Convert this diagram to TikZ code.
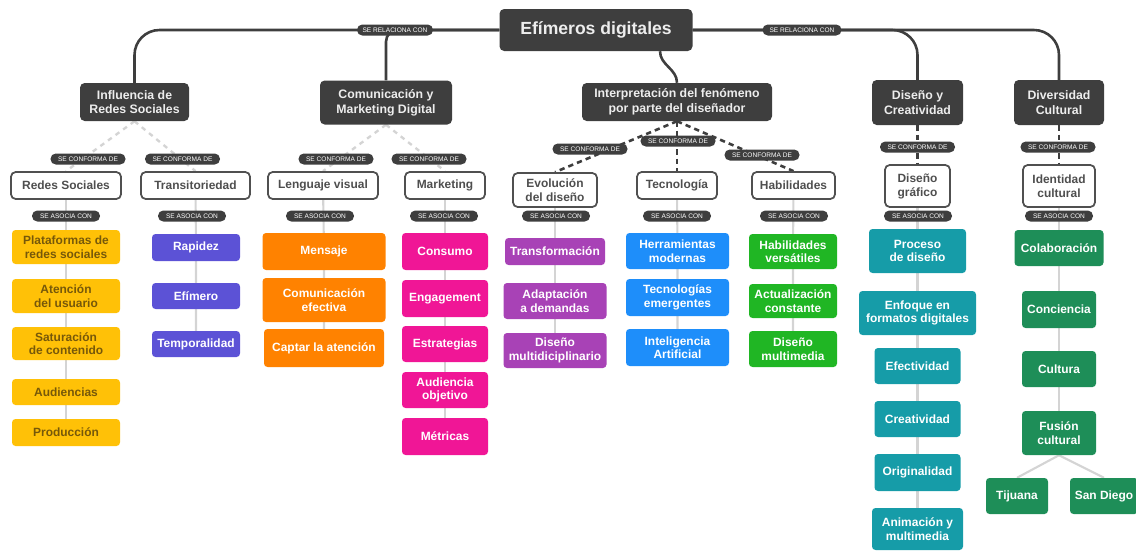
\documentclass[tikz,border=0pt]{standalone}
\usepackage{fontspec}
\setmainfont{Liberation Sans}
\usetikzlibrary{backgrounds}
\definecolor{topicgray}{RGB}{62,62,62}
\definecolor{subgray}{RGB}{80,80,80}
\definecolor{subtext}{RGB}{78,78,78}
\definecolor{stemgray}{RGB}{212,212,212}
\definecolor{yelbox}{RGB}{255,193,7}
\definecolor{yeltext}{RGB}{118,88,10}
\definecolor{indigobox}{RGB}{92,82,214}
\definecolor{orangebox}{RGB}{255,130,0}
\definecolor{magentabox}{RGB}{240,22,150}
\definecolor{purplebox}{RGB}{168,66,182}
\definecolor{bluebox}{RGB}{30,142,250}
\definecolor{greenbox}{RGB}{32,182,36}
\definecolor{tealbox}{RGB}{22,156,168}
\definecolor{pinebox}{RGB}{30,142,88}

\begin{document}
\begin{tikzpicture}[
    x=0.03cm, y=-0.03cm,
    sz/.style 2 args={minimum width=#1*0.03cm, minimum height=#2*0.03cm},
    topic/.style={fill=topicgray, text=white!93!black, rounded corners=4pt, align=center, inner sep=0pt, font=\bfseries\fontsize{10.5}{12.5}\selectfont},
    sub/.style={draw=subgray, line width=1.5pt, fill=white, text=subtext, rounded corners=4pt, align=center, inner sep=0pt, font=\bfseries\fontsize{10.2}{12}\selectfont},
    leaf/.style={fill=#1, text=white, rounded corners=3pt, align=center, inner sep=0pt, font=\bfseries\fontsize{10.2}{11.5}\selectfont},
    tag/.style={fill=topicgray, text=white, rounded corners=4.5pt, inner sep=0pt, minimum height=11*0.03cm, font=\fontsize{5.6}{6}\selectfont},
    link/.style={draw=topicgray, line width=2.2pt},
    lightdash/.style={draw=stemgray, line width=2pt, dash pattern=on 4pt off 4pt},
    darkdash/.style={draw=topicgray, line width=2.2pt, dash pattern=on 4.5pt off 3.5pt},
    stem/.style={draw=stemgray, line width=1.8pt}
  ]
  \useasboundingbox (0,0) rectangle (1136,550);

  % main topics
  \node[topic, sz={193}{42}, font=\bfseries\fontsize{15}{17}\selectfont] (root) at (596,30) {Efímeros digitales};
  \node[topic, sz={109}{38}] (infl) at (134.5,102) {Influencia de\\Redes Sociales};
  \node[topic, sz={132}{44}] (comu) at (386,102.5) {Comunicación y\\Marketing Digital};
  \node[topic, sz={190}{38}] (interp) at (677,102) {Interpretación del fenómeno\\por parte del diseñador};
  \node[topic, sz={91}{45}] (dise) at (917.5,102.5) {Diseño y\\Creatividad};
  \node[topic, sz={90}{45}] (diver) at (1059,102.5) {Diversidad\\Cultural};
  \coordinate (rootout) at ([xshift=1.92cm]root.south);

  % sub topics
  \node[sub, sz={110}{27}] (redes) at (66,185.5) {Redes Sociales};
  \node[sub, sz={109}{27}] (trans) at (195.5,185.5) {Transitoriedad};
  \node[sub, sz={110}{27}] (lengv) at (323,185.5) {Lenguaje visual};
  \node[sub, sz={80}{27}] (mark) at (445,185.5) {Marketing};
  \node[sub, sz={84}{34}] (evol) at (555,190) {Evolución\\del diseño};
  \node[sub, sz={80}{27}] (tecno) at (677,185.5) {Tecnología};
  \node[sub, sz={83}{27}] (habil) at (793.5,185.5) {Habilidades};
  \node[sub, sz={65}{42}] (dgraf) at (917.5,186) {Diseño\\gráfico};
  \node[sub, sz={72}{42}] (ident) at (1059,186) {Identidad\\cultural};

  % leaves: Redes Sociales
  \node[leaf=yelbox, text=yeltext, sz={108}{34}] (plat) at (66,247) {Plataformas de\\redes sociales};
  \node[leaf=yelbox, text=yeltext, sz={108}{34}] (aten) at (66,296) {Atención\\del usuario};
  \node[leaf=yelbox, text=yeltext, sz={108}{33}] (satu) at (66,343.5) {Saturación\\de contenido};
  \node[leaf=yelbox, text=yeltext, sz={108}{26}] (audi) at (66,392) {Audiencias};
  \node[leaf=yelbox, text=yeltext, sz={108}{27}] (prod) at (66,432.5) {Producción};
  % leaves: Transitoriedad
  \node[leaf=indigobox, sz={88}{27}] (rapi) at (196,247.5) {Rapidez};
  \node[leaf=indigobox, sz={88}{26}] (efim) at (196,296) {Efímero};
  \node[leaf=indigobox, sz={88}{26}] (temp) at (196,344) {Temporalidad};
  % leaves: Lenguaje visual
  \node[leaf=orangebox, sz={123}{37}] (mens) at (324,251.5) {Mensaje};
  \node[leaf=orangebox, sz={123}{44}] (cefe) at (324,300) {Comunicación\\efectiva};
  \node[leaf=orangebox, sz={120}{38}] (capt) at (324,348) {Captar la atención};
  % leaves: Marketing
  \node[leaf=magentabox, sz={86}{37}] (cons) at (445,251.5) {Consumo};
  \node[leaf=magentabox, sz={86}{37}] (enga) at (445,298.5) {Engagement};
  \node[leaf=magentabox, sz={86}{36}] (estr) at (445,344) {Estrategias};
  \node[leaf=magentabox, sz={86}{36}] (aobj) at (445,390) {Audiencia\\objetivo};
  \node[leaf=magentabox, sz={86}{37}] (metr) at (445,436.5) {Métricas};
  % leaves: Evolucion del diseno
  \node[leaf=purplebox, sz={100}{27}] (tran) at (555,251.5) {Transformación};
  \node[leaf=purplebox, sz={103}{36}] (adap) at (555,301) {Adaptación\\a demandas};
  \node[leaf=purplebox, sz={103}{35}] (dmul) at (555,350.5) {Diseño\\multidiciplinario};
  % leaves: Tecnologia
  \node[leaf=bluebox, sz={103}{36}] (herr) at (677.5,251) {Herramientas\\modernas};
  \node[leaf=bluebox, sz={103}{37}] (temr) at (677.5,297.5) {Tecnologías\\emergentes};
  \node[leaf=bluebox, sz={103}{37}] (iart) at (677.5,347.5) {Inteligencia\\Artificial};
  % leaves: Habilidades
  \node[leaf=greenbox, sz={88}{35}] (hver) at (793,251.5) {Habilidades\\versátiles};
  \node[leaf=greenbox, sz={88}{34}] (actu) at (793,301) {Actualización\\constante};
  \node[leaf=greenbox, sz={88}{36}] (dmed) at (793,349) {Diseño\\multimedia};
  % leaves: Diseno grafico
  \node[leaf=tealbox, sz={97}{44}] (proc) at (917.5,251) {Proceso\\de diseño};
  \node[leaf=tealbox, sz={117}{44}] (enfo) at (917.5,313) {Enfoque en\\formatos digitales};
  \node[leaf=tealbox, sz={86}{36}] (efec) at (917.5,366) {Efectividad};
  \node[leaf=tealbox, sz={86}{36}] (crea) at (917.5,419) {Creatividad};
  \node[leaf=tealbox, sz={86}{37}] (orig) at (917.5,472.5) {Originalidad};
  \node[leaf=tealbox, sz={91}{42}] (anim) at (917.5,529) {Animación y\\multimedia};
  % leaves: Identidad cultural
  \node[leaf=pinebox, sz={89}{36}] (cola) at (1059,248) {Colaboración};
  \node[leaf=pinebox, sz={74}{37}] (conc) at (1059,309.5) {Conciencia};
  \node[leaf=pinebox, sz={74}{36}] (cult) at (1059,369) {Cultura};
  \node[leaf=pinebox, sz={74}{44}] (fusi) at (1059,433) {Fusión\\cultural};
  \node[leaf=pinebox, sz={62}{36}] (tiju) at (1017,496) {Tijuana};
  \node[leaf=pinebox, sz={68}{36}] (sdie) at (1104,496) {San Diego};

  % connectors
  \begin{pgfonlayer}{background}
    \draw[link, rounded corners=0.75cm] (root.west) -| (infl.north);
    \draw[link, rounded corners=0.35cm] (root.west) -| (comu.north);
    \draw[link, rounded corners=0.75cm] (root.east) -| (dise.north);
    \draw[link, rounded corners=0.75cm] (root.east) -| (diver.north);
    \draw[link] (rootout) to[out=-90, in=90] (interp.north);
    \draw[lightdash] (infl.south) -- (redes.north);
    \draw[lightdash] (infl.south) -- (trans.north);
    \draw[lightdash] (comu.south) -- (lengv.north);
    \draw[lightdash] (comu.south) -- (mark.north);
    \draw[darkdash] (interp.south) -- (evol.north);
    \draw[darkdash] (interp.south) -- (tecno.north);
    \draw[darkdash] (interp.south) -- (habil.north);
    \draw[darkdash] (dise.south) -- (dgraf.north);
    \draw[darkdash] (diver.south) -- (ident.north);
    \draw[stem] (redes) -- (plat) -- (aten) -- (satu) -- (audi) -- (prod);
    \draw[stem] (trans) -- (rapi) -- (efim) -- (temp);
    \draw[stem] (lengv) -- (mens) -- (cefe) -- (capt);
    \draw[stem] (mark) -- (cons) -- (enga) -- (estr) -- (aobj) -- (metr);
    \draw[stem] (evol) -- (tran) -- (adap) -- (dmul);
    \draw[stem] (tecno) -- (herr) -- (temr) -- (iart);
    \draw[stem] (habil) -- (hver) -- (actu) -- (dmed);
    \draw[stem] (dgraf) -- (proc) -- (enfo) -- (efec) -- (crea) -- (orig) -- (anim);
    \draw[stem] (ident) -- (cola) -- (conc) -- (cult) -- (fusi);
    \draw[stem] (fusi.south) -- (tiju.north);
    \draw[stem] (fusi.south) -- (sdie.north);
  \end{pgfonlayer}

  % relation tags
  \node[tag, minimum width=76*0.03cm] (relleft) at (395,30) {SE RELACIONA CON};
  \node[tag, minimum width=79*0.03cm] (relright) at (802,30) {SE RELACIONA CON};
  \node[tag, minimum width=75*0.03cm] (confredes) at (88,159) {SE CONFORMA DE};
  \node[tag, minimum width=75*0.03cm] (conftrans) at (182.5,159) {SE CONFORMA DE};
  \node[tag, minimum width=75*0.03cm] (conflengv) at (336,159) {SE CONFORMA DE};
  \node[tag, minimum width=75*0.03cm] (confmark) at (429,159) {SE CONFORMA DE};
  \node[tag, minimum width=75*0.03cm] (confevol) at (590,149) {SE CONFORMA DE};
  \node[tag, minimum width=75*0.03cm] (conftecno) at (678,141) {SE CONFORMA DE};
  \node[tag, minimum width=75*0.03cm] (confhabil) at (762,155) {SE CONFORMA DE};
  \node[tag, minimum width=75*0.03cm] (confdgraf) at (917.5,147) {SE CONFORMA DE};
  \node[tag, minimum width=75*0.03cm] (confident) at (1058,147) {SE CONFORMA DE};
  \node[tag, minimum width=68*0.03cm] (asocredes) at (66,216) {SE ASOCIA CON};
  \node[tag, minimum width=68*0.03cm] (asoctrans) at (192,216) {SE ASOCIA CON};
  \node[tag, minimum width=68*0.03cm] (asoclengv) at (320,216) {SE ASOCIA CON};
  \node[tag, minimum width=68*0.03cm] (asocmark) at (444,216) {SE ASOCIA CON};
  \node[tag, minimum width=68*0.03cm] (asocevol) at (556,216) {SE ASOCIA CON};
  \node[tag, minimum width=68*0.03cm] (asoctecno) at (677,216) {SE ASOCIA CON};
  \node[tag, minimum width=68*0.03cm] (asochabil) at (794,216) {SE ASOCIA CON};
  \node[tag, minimum width=68*0.03cm] (asocdgraf) at (918,216) {SE ASOCIA CON};
  \node[tag, minimum width=68*0.03cm] (asocident) at (1059,216) {SE ASOCIA CON};
\end{tikzpicture}
\end{document}
